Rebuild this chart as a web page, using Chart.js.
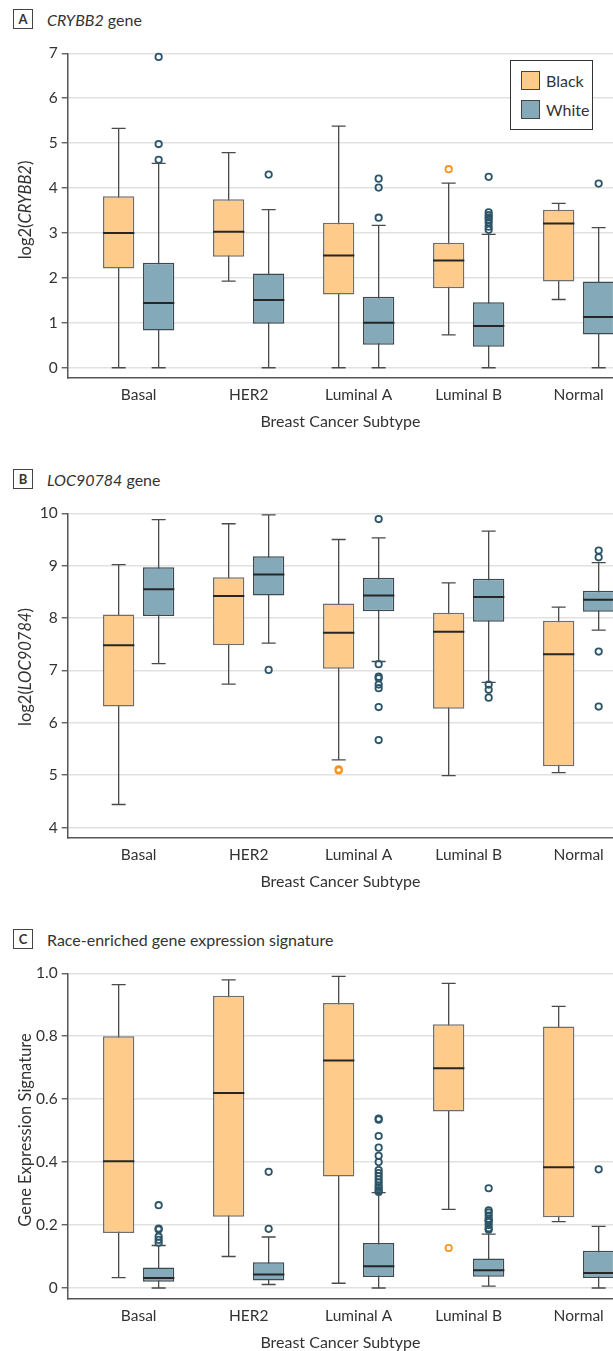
<!DOCTYPE html>
<html>
<head>
<meta charset="utf-8">
<script src="https://cdn.jsdelivr.net/npm/chart.js@4.4.1/dist/chart.umd.min.js"></script>
<style>
  body { margin: 0; width: 613px; height: 1351px; overflow: hidden; background: #fff; position: relative;
         font-family: Lato, "Open Sans", sans-serif; color: #333; }
  .ptitle { position: absolute; left: 13px; height: 20px; display: flex; align-items: center; font-size: 16px; }
  .tag { box-sizing: border-box; width: 20px; height: 20px; border: 1.3px solid #444; display: flex;
         align-items: center; justify-content: center; font-weight: bold; font-size: 13px; margin-right: 14px; }
  canvas { position: absolute; left: 0; }
  .ytitle { position: absolute; left: 25px; font-size: 16.5px; white-space: nowrap;
            transform: translate(-50%, -50%) rotate(-90deg); }
  .legend { position: absolute; left: 510px; top: 60px; width: 83px; height: 70px; box-sizing: border-box;
            border: 1.5px solid #333; background: #fff; font-size: 16px; }
  .legend div { position: absolute; left: 10px; display: flex; align-items: center; height: 19px; }
  .legend span { display: inline-block; box-sizing: border-box; width: 19px; height: 19px; border: 1.5px solid #444; margin-right: 6px; }
</style>
</head>
<body>

<div class="ptitle" style="top:9px"><div class="tag">A</div><span><i>CRYBB2</i> gene</span></div>
<div class="ptitle" style="top:469px"><div class="tag">B</div><span><i>LOC90784</i> gene</span></div>
<div class="ptitle" style="top:929px"><div class="tag">C</div><span>Race-enriched gene expression signature</span></div>

<canvas id="chartA" width="613" height="398" style="top:40px"></canvas>
<canvas id="chartB" width="613" height="398" style="top:500px"></canvas>
<canvas id="chartC" width="613" height="399" style="top:960px"></canvas>

<div class="ytitle" style="top:210px">log2(<i>CRYBB2</i>)</div>
<div class="ytitle" style="top:667px">log2(<i>LOC90784</i>)</div>
<div class="ytitle" style="top:1130px">Gene Expression Signature</div>

<div class="legend">
  <div style="top:10px"><span style="background:#fecb8b"></span>Black</div>
  <div style="top:39px"><span style="background:#84a9b8"></span>White</div>
</div>

<script>
const categories = ['Basal', 'HER2', 'Luminal A', 'Luminal B', 'Normal'];

// each box: [low whisker, Q1, median, Q3, high whisker]
const crybb2Black = [[0, 2.21, 3.0, 3.82, 5.33], [1.93, 2.47, 3.03, 3.75, 4.79], [0, 1.63, 2.5, 3.23, 5.38], [0.73, 1.77, 2.39, 2.78, 4.11], [1.52, 1.92, 3.21, 3.52, 3.66]];
const crybb2BlackOut = [[], [], [], [4.42], []];
const crybb2White = [[0, 0.83, 1.44, 2.34, 4.55], [0, 0.98, 1.51, 2.1, 3.52], [0, 0.51, 1.0, 1.58, 3.17], [0, 0.47, 0.93, 1.46, 2.97], [0, 0.74, 1.13, 1.92, 3.12]];
const crybb2WhiteOut = [[6.92, 4.98, 4.63], [4.3], [4.21, 4.01, 3.34], [4.25, 3.46, 3.4, 3.35, 3.3, 3.23, 3.14, 3.07], [4.1]];
const crybb2Ticks = [0, 1, 2, 3, 4, 5, 6, 7];

const locBlack = [[4.44, 6.31, 7.48, 8.07, 9.02], [6.74, 7.48, 8.42, 8.78, 9.8], [5.29, 7.03, 7.72, 8.28, 9.5], [4.99, 6.27, 7.74, 8.1, 8.67], [5.05, 5.17, 7.31, 7.95, 8.21]];
const locBlackOut = [[], [], [5.11, 5.09], [], []];
const locWhite = [[7.13, 8.04, 8.55, 8.97, 9.88], [7.52, 8.43, 8.83, 9.18, 9.97], [7.17, 8.13, 8.43, 8.77, 9.53], [6.77, 7.93, 8.4, 8.75, 9.66], [7.77, 8.12, 8.35, 8.52, 9.06]];
const locWhiteOut = [[], [7.01], [9.89, 7.12, 6.88, 6.85, 6.73, 6.66, 6.3, 5.67], [6.73, 6.63, 6.48], [9.29, 9.16, 7.36, 6.31]];
const locTicks = [4, 5, 6, 7, 8, 9, 10];

const sigBlack = [[0.033, 0.175, 0.403, 0.8, 0.964], [0.1, 0.226, 0.62, 0.929, 0.979], [0.015, 0.354, 0.723, 0.906, 0.99], [0.25, 0.561, 0.698, 0.838, 0.968], [0.211, 0.225, 0.384, 0.831, 0.895]];
const sigBlackOut = [[], [], [], [0.127], []];
const sigWhite = [[0, 0.02, 0.032, 0.065, 0.135], [0.011, 0.024, 0.043, 0.082, 0.162], [0, 0.035, 0.069, 0.143, 0.303], [0.006, 0.036, 0.056, 0.094, 0.171], [0, 0.032, 0.048, 0.118, 0.196]];
const sigWhiteOut = [[0.263, 0.189, 0.186, 0.163, 0.153, 0.144], [0.369, 0.188], [0.538, 0.535, 0.483, 0.446, 0.42, 0.4, 0.375, 0.365, 0.355, 0.345, 0.335, 0.325, 0.318, 0.31, 0.305], [0.317, 0.247, 0.24, 0.23, 0.22, 0.215, 0.21, 0.2, 0.19, 0.185], [0.377]];
const sigTicks = [0, 0.2, 0.4, 0.6, 0.8, 1.0];

const FONT = 'Lato, "Open Sans", sans-serif';

// whiskers go under the boxes, medians and outliers on top
const boxPlot = {
    id: 'boxPlot',
    beforeDatasetsDraw(chart) { drawBoxParts(chart, false); },
    afterDatasetsDraw(chart) { drawBoxParts(chart, true); }
};

function drawBoxParts(chart, onTop) {
    const ctx = chart.ctx;
    const y = chart.scales.y;
    const area = chart.chartArea;
    ctx.save();
    ctx.beginPath();
    ctx.rect(area.left, area.top - 10, area.right - area.left, area.bottom - area.top + 20);
    ctx.clip();
    chart.data.datasets.forEach((ds, di) => {
        chart.getDatasetMeta(di).data.forEach((bar, i) => {
            const s = ds.stats[i];
            const x = bar.x;
            if (!onTop) {
                ctx.strokeStyle = '#4a4a4a';
                ctx.lineWidth = 1.3;
                ctx.beginPath();
                ctx.moveTo(x, y.getPixelForValue(s[0]));
                ctx.lineTo(x, y.getPixelForValue(s[4]));
                [s[0], s[4]].forEach(v => {
                    const py = y.getPixelForValue(v);
                    ctx.moveTo(x - 7, py);
                    ctx.lineTo(x + 7, py);
                });
                ctx.stroke();
            } else {
                const pm = y.getPixelForValue(s[2]);
                ctx.strokeStyle = '#262626';
                ctx.lineWidth = 2;
                ctx.beginPath();
                ctx.moveTo(x - bar.width / 2, pm);
                ctx.lineTo(x + bar.width / 2, pm);
                ctx.stroke();
                ctx.strokeStyle = ds.outlierColor;
                ctx.lineWidth = 1.8;
                ds.outliers[i].forEach(v => {
                    ctx.beginPath();
                    ctx.arc(x, y.getPixelForValue(v), 3.2, 0, Math.PI * 2);
                    ctx.stroke();
                });
            }
        });
    });
    ctx.restore();
}

function boxChart(id, black, blackOut, white, whiteOut, yMin, yMax, yTicks, fmt) {
    const toBars = stats => stats.map((s, i) => ({ x: i, y: [s[1], s[3]] }));
    return new Chart(document.getElementById(id), {
        type: 'bar',
        data: {
            datasets: [
                { label: 'Black', data: toBars(black), stats: black, outliers: blackOut, outlierColor: '#f7941d',
                  backgroundColor: '#fecb8b', borderColor: '#6e6e6e', borderWidth: 1.5, borderSkipped: false },
                { label: 'White', data: toBars(white), stats: white, outliers: whiteOut, outlierColor: '#2d5568',
                  backgroundColor: '#84a9b8', borderColor: '#3d4a51', borderWidth: 1.5, borderSkipped: false }
            ]
        },
        options: {
            responsive: false,
            animation: false,
            categoryPercentage: 0.727,
            barPercentage: 0.783,
            layout: { padding: { top: 12, left: 0, right: 0, bottom: 0 } },
            plugins: { legend: { display: false }, tooltip: { enabled: false } },
            scales: {
                x: {
                    type: 'linear', min: -0.645, max: 4.312, offset: false,
                    afterBuildTicks: s => { s.ticks = categories.map((c, i) => ({ value: i })); },
                    afterFit: s => { s.height = 60; },
                    grid: { display: false, drawTicks: false },
                    border: { display: true, color: '#555', width: 1.5 },
                    ticks: { padding: 8, color: '#333', font: { family: FONT, size: 15.5 }, callback: v => categories[v] },
                    title: { display: true, text: 'Breast Cancer Subtype', color: '#333', font: { family: FONT, size: 16 },
                             padding: { top: 0, bottom: 7 } }
                },
                y: {
                    min: yMin, max: yMax,
                    afterBuildTicks: s => { s.ticks = yTicks.map(v => ({ value: v })); },
                    afterFit: s => { s.width = 67.7; },
                    grid: { color: '#e1e1e1', lineWidth: 1.5, tickLength: 6, tickColor: '#555', tickWidth: 1.3 },
                    border: { color: '#555', width: 1.5 },
                    ticks: { padding: 4, color: '#333', font: { family: FONT, size: 15.5 }, callback: fmt }
                }
            }
        },
        plugins: [boxPlot]
    });
}

boxChart('chartA', crybb2Black, crybb2BlackOut, crybb2White, crybb2WhiteOut, -0.228, 7, crybb2Ticks, v => String(v));
boxChart('chartB', locBlack, locBlackOut, locWhite, locWhiteOut, 3.8, 10, locTicks, v => String(v));
boxChart('chartC', sigBlack, sigBlackOut, sigWhite, sigWhiteOut, -0.035, 1.0, sigTicks, v => v === 0 ? '0' : v.toFixed(1));
</script>
</body>
</html>
